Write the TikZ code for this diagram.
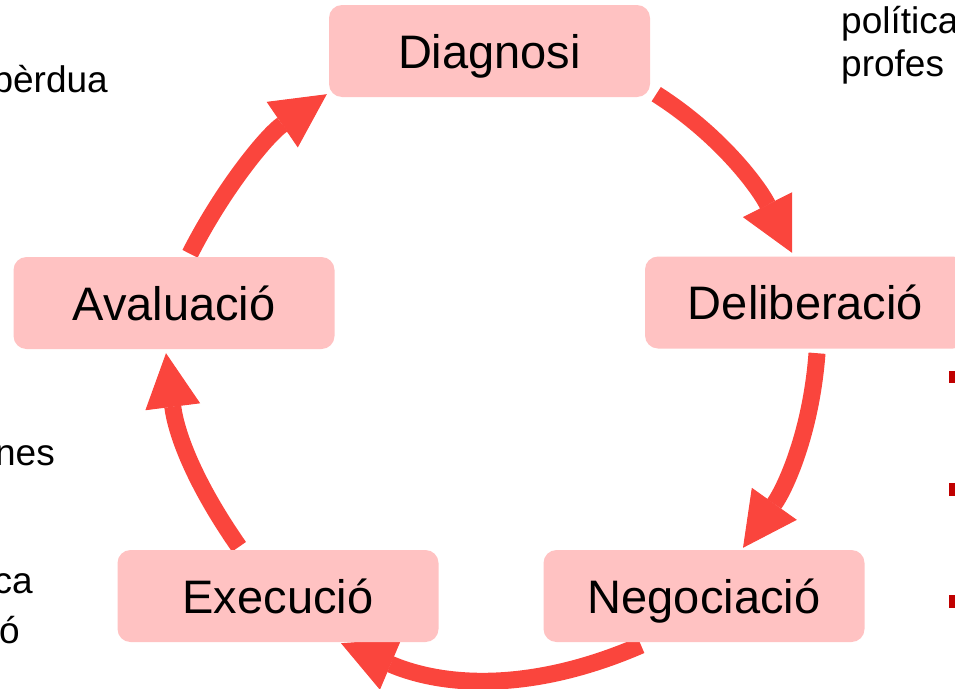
\documentclass[tikz,border=0pt]{standalone}
\usepackage{fontspec}
\setmainfont{Liberation Sans}
\usetikzlibrary{arrows.meta,calc}
\pgfdeclarelayer{background}
\pgfsetlayers{background,main}
\definecolor{boxfill}{RGB}{255,194,194}
\definecolor{arrowred}{RGB}{250,69,61}
\definecolor{bulletred}{RGB}{192,0,0}
\tikzset{
  stagebox/.style={fill=boxfill, rounded corners=13pt, minimum width=321pt, minimum height=92pt,
    inner sep=0pt, text height=34pt, text depth=0pt, font=\fontsize{47}{56}\selectfont},
  cyclearrow/.style={draw=arrowred, line width=17pt,
    -{Triangle[length=54pt,width=55pt,line width=1pt]}},
  bodytext/.style={inner sep=0pt, font=\fontsize{37}{44}\selectfont},
  bullet/.style={fill=bulletred}
}
\begin{document}
\begin{tikzpicture}[x=1pt,y=-1pt]
\useasboundingbox (0,0) rectangle (955,688);

% stages
\node[stagebox] (diag)  at (489.5,51)  {Diagnosi};
\node[stagebox] (delib) at (805.5,302.5) {Deliberació};
\node[stagebox] (aval)  at (174,303)   {Avaluació};
\node[stagebox] (exec)  at (278,596)   {Execució};
\node[stagebox] (negoc) at (704,596)   {Negociació};

% cycle arrows (behind the boxes)
\begin{pgfonlayer}{background}
\draw[cyclearrow] ($(diag.south east)+(6,-3)$) .. controls +(63,40) and +(-34,-67) .. ($(delib.north)+(-13.5,-3.5)$);
\draw[cyclearrow] ($(delib.south)+(11.5,4.5)$) .. controls +(-6,80) and +(42,-59) .. ($(negoc.north)+(39,-2)$);
\draw[cyclearrow] ($(negoc.south)+(-63,3)$) .. controls +(-106,46) and +(106,45) .. ($(exec.south)+(63,1)$);
\draw[cyclearrow] ($(exec.north)+(-39,-3)$) .. controls +(-46,-66) and +(10,79) .. ($(aval.south)+(-8,4)$);
\draw[cyclearrow] ($(aval.north)+(16,-3)$) .. controls +(33,-65) and +(-60,41) .. ($(diag.south west)+(-2,-3)$);
\end{pgfonlayer}

% cropped surrounding text
\node[bodytext, anchor=base east] (t1) at (108,92) {pèrdua};
\node[bodytext, anchor=base east] (t2) at (55,465) {nes};
\node[bodytext, anchor=base east] (t3) at (33,593) {ca};
\node[bodytext, anchor=base east] (t4) at (20,643) {ció};
\node[bodytext, anchor=base west] (t5) at (841,33) {política};
\node[bodytext, anchor=base west] (t6) at (841,76) {profes};

% bullets at right edge
\fill[bullet] (949,371) rectangle (961,383);
\fill[bullet] (949,483) rectangle (961,496);
\fill[bullet] (949,595) rectangle (961,608);
\end{tikzpicture}
\end{document}
